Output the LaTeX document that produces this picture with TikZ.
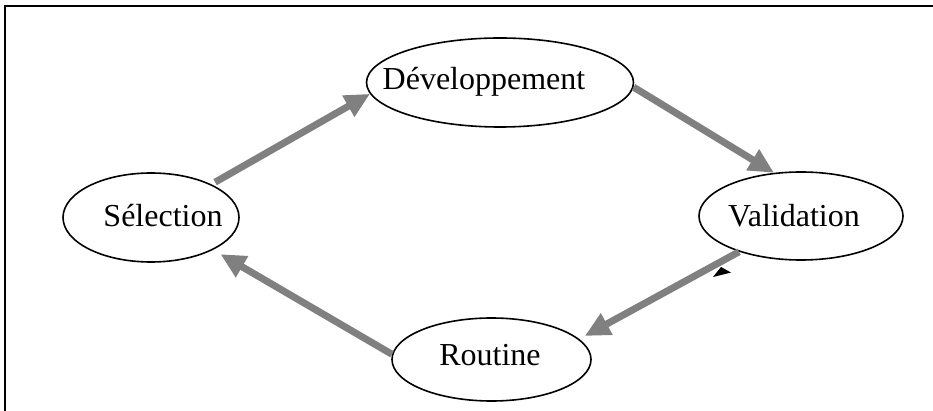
\documentclass[tikz,border=0pt]{standalone}
\usepackage{fontspec}
\setmainfont{Liberation Serif}
\usetikzlibrary{shapes.geometric,arrows.meta}
\definecolor{arrowgray}{RGB}{128,128,128}
\tikzset{
  oval/.style={draw=black, line width=1.6pt, ellipse, inner sep=0pt},
  lbl/.style={anchor=base, inner sep=0pt, font=\fontsize{32}{38}\selectfont},
  flow/.style={draw=arrowgray, line width=7pt, -{Triangle[length=25pt,width=23pt]}, arrowgray},
  frame/.style={line width=2pt, black}
}
\begin{document}
\begin{tikzpicture}[x=1pt,y=-1pt]
\useasboundingbox (0,0) rectangle (933,411);
% frame
\coordinate (fbl) at (4.5,411);
\coordinate (ftl) at (4.5,6);
\coordinate (ftr) at (933,6);
\draw[frame] (fbl) -- (ftl) -- (ftr);
% ellipses
\node[oval, minimum width=267pt, minimum height=89pt] (dev) at (500,82.5) {};
\node[oval, minimum width=176pt, minimum height=89pt] (sel) at (151,217.5) {};
\node[oval, minimum width=204pt, minimum height=88pt] (val) at (801,216) {};
\node[oval, minimum width=199pt, minimum height=83pt] (rou) at (491.5,359.5) {};
% labels
\node[lbl] (devt) at (484,90) {Développement};
\node[lbl] (selt) at (163,227) {Sélection};
\node[lbl] (valt) at (794,227) {Validation};
\node[lbl] (rout) at (490,365) {Routine};
% arrows
\draw[flow] ([shift={(4,-2)}]sel.29) -- (dev.185);
\draw[flow] (dev.358) -- (val.122);
\draw[flow] (val.210) -- ([shift={(7,-2)}]rou.14);
\draw[flow] (rou.177) -- ([shift={(8,4)}]sel.332);
% small black mark
\coordinate (m1) at (713,277);
\coordinate (m2) at (721,267);
\coordinate (m3) at (731,272.5);
\fill[black] (m1) -- (m2) -- (m3) -- cycle;
\end{tikzpicture}
\end{document}
